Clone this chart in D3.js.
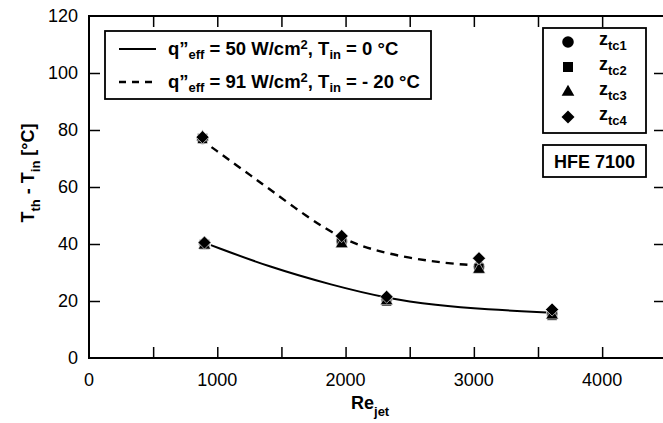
<!DOCTYPE html>
<html>
<head>
<meta charset="utf-8">
<script src="https://cdn.jsdelivr.net/npm/d3@7"></script>
<style>
  body { margin: 0; background: #fff; }
  text { font-family: "Liberation Sans", Arial, Helvetica, sans-serif; fill: #000; }
  .bold { font-weight: bold; }
</style>
</head>
<body>
<div id="chart"></div>
<script>
// values
var reLow = [900, 2320, 3610];        // q"eff = 50 W/cm2, Tin = 0 C
var reHigh = [885, 1970, 3040];       // q"eff = 91 W/cm2, Tin = -20 C
var tc1Low = [40, 20.5, 15.5];
var tc2Low = [39.8, 20, 15];
var tc3Low = [39.5, 20, 15];
var tc4Low = [40.5, 21.5, 17];
var tc1High = [77, 41, 32];
var tc2High = [77, 40.5, 31.5];
var tc3High = [77.5, 40, 31];
var tc4High = [77.5, 42.8, 35];

// fitted curves
var curveLowX = [950, 1400, 1900, 2316, 2700, 3100, 3568];
var curveLowY = [39.6, 32, 25.5, 21, 18.5, 17, 16];
var curveHighX = [955, 1200, 1400, 1700, 1965, 2200, 2500, 2800, 2950];
var curveHighY = [74, 66, 59.5, 49.5, 42, 38, 35, 33.2, 32.7];

var xTicks = [0, 500, 1000, 1500, 2000, 2500, 3000, 3500, 4000, 4500];
var xTickLabels = [0, 1000, 2000, 3000, 4000];
var yTicks = [0, 20, 40, 60, 80, 100, 120];

var svgWidth = 663;
var svgHeight = 423;

var svg = d3.select("#chart")
  .append("svg")
  .attr("width", svgWidth)
  .attr("height", svgHeight);

var x = d3.scaleLinear().domain([0, 4490]).range([89, 665]);
var y = d3.scaleLinear().domain([0, 120]).range([358, 16]);

var tickLen = 11;

// frame
svg.append("rect")
  .attr("x", x(0)).attr("y", y(120))
  .attr("width", x(4490) - x(0)).attr("height", y(0) - y(120))
  .attr("fill", "none").attr("stroke", "#000").attr("stroke-width", 2);

// inward ticks on all four sides
var bottomAxis = svg.append("g")
  .attr("transform", `translate(0,${y(0)})`)
  .call(d3.axisTop(x).tickValues(xTicks.slice(1)).tickSize(tickLen).tickFormat(""));
var topAxis = svg.append("g")
  .attr("transform", `translate(0,${y(120)})`)
  .call(d3.axisBottom(x).tickValues(xTicks.slice(1)).tickSize(tickLen).tickFormat(""));
var leftAxis = svg.append("g")
  .attr("transform", `translate(${x(0)},0)`)
  .call(d3.axisRight(y).tickValues(yTicks.slice(1, -1)).tickSize(tickLen).tickFormat(""));
var rightAxis = svg.append("g")
  .attr("transform", `translate(${x(4490)},0)`)
  .call(d3.axisLeft(y).tickValues(yTicks.slice(1, -1)).tickSize(tickLen).tickFormat(""));

[bottomAxis, topAxis, leftAxis, rightAxis].forEach(function(a) {
  a.select(".domain").remove();
  a.selectAll("line").attr("stroke", "#000").attr("stroke-width", 1.5);
});

// tick labels
svg.selectAll(".xlab")
  .data(xTickLabels)
  .enter()
  .append("text")
  .attr("x", d => x(d))
  .attr("y", y(0) + 28)
  .attr("text-anchor", "middle")
  .attr("font-size", "18px")
  .text(d => d);

svg.selectAll(".ylab")
  .data(yTicks)
  .enter()
  .append("text")
  .attr("x", x(0) - 11)
  .attr("y", d => y(d) + 6)
  .attr("text-anchor", "end")
  .attr("font-size", "18px")
  .text(d => d);

// axis titles
var xTitle = svg.append("text")
  .attr("class", "bold")
  .attr("x", 351).attr("y", 409)
  .attr("font-size", "18px");
xTitle.append("tspan").text("Re");
xTitle.append("tspan").attr("font-size", "13px").attr("dy", 7).text("jet");

var yTitle = svg.append("text")
  .attr("class", "bold")
  .attr("transform", "translate(34,173) rotate(-90)")
  .attr("text-anchor", "middle")
  .attr("font-size", "18px");
yTitle.append("tspan").text("T");
yTitle.append("tspan").attr("font-size", "13px").attr("dy", 6).text("th");
yTitle.append("tspan").attr("dy", -6).text(" - T");
yTitle.append("tspan").attr("font-size", "13px").attr("dy", 6).text("in");
yTitle.append("tspan").attr("dy", -6).text(" [°C]");

// curves
var line = d3.line()
  .x(d => x(d[0]))
  .y(d => y(d[1]))
  .curve(d3.curveBasis);

svg.append("path")
  .datum(d3.zip(curveLowX, curveLowY))
  .attr("d", line)
  .attr("fill", "none").attr("stroke", "#000").attr("stroke-width", 2);

svg.append("path")
  .datum(d3.zip(curveHighX, curveHighY))
  .attr("d", line)
  .attr("fill", "none").attr("stroke", "#000").attr("stroke-width", 2.4)
  .attr("stroke-dasharray", "8,6");

// markers (diamond = square turned 45 degrees)
var series = [
  { sym: d3.symbolCircle, size: 105, rot: 0, low: tc1Low, high: tc1High },
  { sym: d3.symbolSquare, size: 100, rot: 0, low: tc2Low, high: tc2High },
  { sym: d3.symbolTriangle, size: 70, rot: 0, low: tc3Low, high: tc3High },
  { sym: d3.symbolSquare, size: 85, rot: 45, low: tc4Low, high: tc4High }
];

series.forEach(function(s) {
  var pts = d3.zip(reLow, s.low).concat(d3.zip(reHigh, s.high));
  svg.selectAll(null)
    .data(pts)
    .enter()
    .append("path")
    .attr("d", d3.symbol().type(s.sym).size(s.size))
    .attr("transform", d => `translate(${x(d[0])},${y(d[1])}) rotate(${s.rot})`)
    .attr("fill", "#000")
    .attr("stroke", "#fff")
    .attr("stroke-width", 0.6);
});

// legend: lines
var legend1 = svg.append("g");
legend1.append("rect")
  .attr("x", 105).attr("y", 31).attr("width", 326).attr("height", 68)
  .attr("fill", "#fff").attr("stroke", "#000").attr("stroke-width", 1.8);
legend1.append("line")
  .attr("x1", 119).attr("x2", 156).attr("y1", 49).attr("y2", 49)
  .attr("stroke", "#000").attr("stroke-width", 2);
legend1.append("line")
  .attr("x1", 119).attr("x2", 156).attr("y1", 82).attr("y2", 82)
  .attr("stroke", "#000").attr("stroke-width", 2.4).attr("stroke-dasharray", "7,6");

function legendText(g, ty, flux, tin) {
  var t = g.append("text").attr("class", "bold")
    .attr("x", 168).attr("y", ty).attr("font-size", "18.5px");
  t.append("tspan").text("q”");
  t.append("tspan").attr("font-size", "13px").attr("dy", 4).text("eff");
  t.append("tspan").attr("dy", -4).text(" = " + flux + " W/cm");
  t.append("tspan").attr("font-size", "13px").attr("dy", -6).text("2");
  t.append("tspan").attr("dy", 6).text(", T");
  t.append("tspan").attr("font-size", "13px").attr("dy", 4).text("in");
  t.append("tspan").attr("dy", -4).text(" = " + tin + " °C");
}
legendText(legend1, 55, "50", "0");
legendText(legend1, 88, "91", "- 20");

// legend: symbols
var legend2 = svg.append("g");
legend2.append("rect")
  .attr("x", 543).attr("y", 28).attr("width", 103).attr("height", 105)
  .attr("fill", "#fff").attr("stroke", "#000").attr("stroke-width", 1.8);
var legendY = [42, 67, 92, 117];
var legendSub = ["tc1", "tc2", "tc3", "tc4"];
series.forEach(function(s, i) {
  legend2.append("path")
    .attr("d", d3.symbol().type(s.sym).size(s.size))
    .attr("transform", `translate(568,${legendY[i]}) rotate(${s.rot})`)
    .attr("fill", "#000");
  var t = legend2.append("text").attr("class", "bold")
    .attr("x", 599).attr("y", legendY[i] + 3).attr("font-size", "18px");
  t.append("tspan").text("z");
  t.append("tspan").attr("font-size", "13px").attr("dy", 5).text(legendSub[i]);
});

// fluid label
svg.append("rect")
  .attr("x", 543).attr("y", 145).attr("width", 103).attr("height", 32)
  .attr("fill", "#fff").attr("stroke", "#000").attr("stroke-width", 1.8);
svg.append("text").attr("class", "bold")
  .attr("x", 594.5).attr("y", 168)
  .attr("text-anchor", "middle").attr("font-size", "18px")
  .text("HFE 7100");
</script>
</body>
</html>
